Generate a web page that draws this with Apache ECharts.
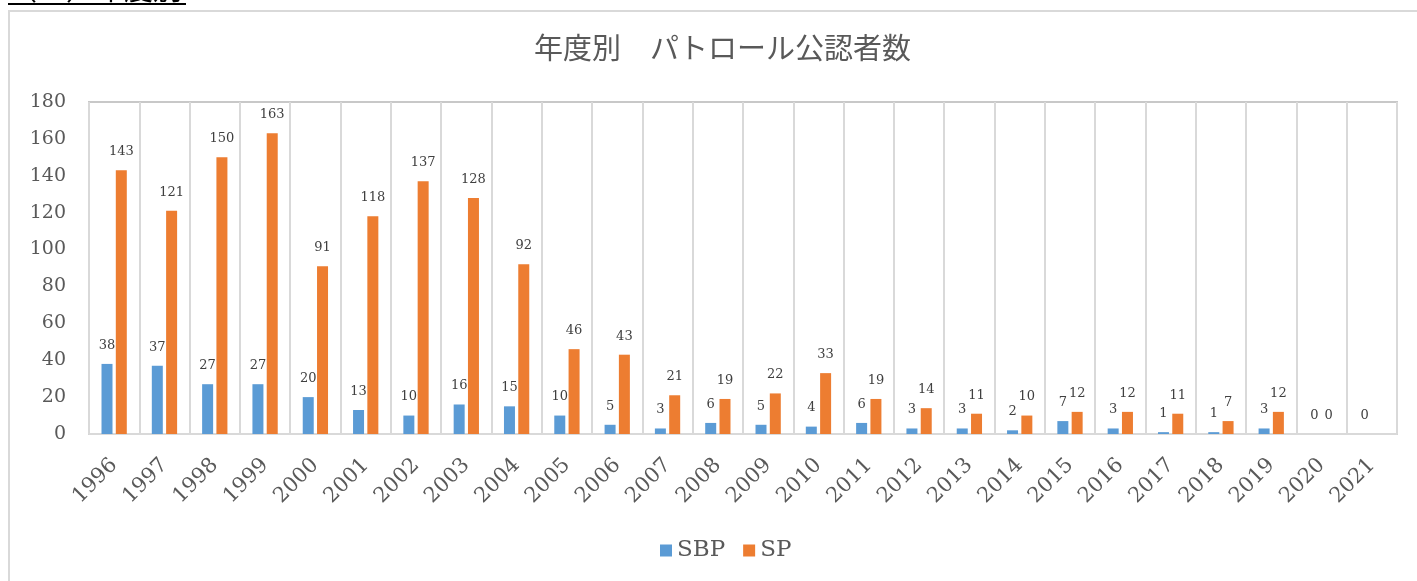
<!DOCTYPE html>
<html>
<head>
<meta charset="utf-8">
<script src="https://cdn.jsdelivr.net/npm/echarts@6/dist/echarts.min.js"></script>
<style>
  html, body { margin: 0; padding: 0; background: #fff; }
  #chart { width: 1417px; height: 581px; }
</style>
</head>
<body>
<div id="chart"></div>
<script>
// 年度
const years = ['1996', '1997', '1998', '1999', '2000', '2001', '2002', '2003', '2004', '2005',
  '2006', '2007', '2008', '2009', '2010', '2011', '2012', '2013', '2014', '2015',
  '2016', '2017', '2018', '2019', '2020', '2021'];
// SBP 公認者数
const sbpValues = [38, 37, 27, 27, 20, 13, 10, 16, 15, 10, 5, 3, 6, 5, 4, 6, 3, 3, 2, 7, 3, 1, 1, 3, 0, 0];
// SP 公認者数
const spValues = [143, 121, 150, 163, 91, 118, 137, 128, 92, 46, 43, 21, 19, 22, 33, 19, 14, 11, 10, 12, 12, 11, 7, 12, 0, null];
const seriesNames = ['SBP', 'SP'];

const serif = '"DejaVu Serif", "Liberation Serif", serif';
const textGray = '#595959';

const chart = echarts.init(document.getElementById('chart'));

const labelStyle = {
  show: true,
  position: 'top',
  distance: 12,
  fontFamily: serif,
  fontSize: 13,
  color: '#404040'
};

let option = {
  animation: false,
  backgroundColor: '#fff',
  title: {
    text: '年度別　パトロール公認者数',
    left: 529,
    top: 28,
    textStyle: {
      fontFamily: '"Noto Sans CJK JP", sans-serif',
      fontWeight: 'normal',
      fontSize: 29,
      color: textGray
    }
  },
  graphic: [
    {
      // 外枠
      type: 'rect',
      z: -10,
      shape: {x: 9, y: 11, width: 1500, height: 700},
      style: {fill: 'none', stroke: '#d9d9d9', lineWidth: 2}
    },
    {
      // 上部の切れた見出し
      type: 'text',
      left: 8,
      top: -26,
      style: {
        text: '（１）年度別',
        fontFamily: '"Noto Sans CJK JP", sans-serif',
        fontSize: 29,
        fill: '#000'
      }
    },
    {
      type: 'line',
      shape: {x1: 8, y1: 4, x2: 186, y2: 4},
      style: {stroke: '#000', lineWidth: 2}
    }
  ],
  legend: {
    data: seriesNames,
    bottom: 14,
    left: 655,
    itemWidth: 12,
    itemHeight: 12,
    itemGap: 18,
    icon: 'rect',
    textStyle: {
      fontFamily: serif,
      fontSize: 23,
      color: textGray
    }
  },
  grid: {
    left: 89,
    right: 20,
    top: 102,
    bottom: 147,
    show: true,
    borderColor: '#c8c8c8',
    borderWidth: 2
  },
  xAxis: [{
    type: 'category',
    data: years,
    axisTick: {show: false},
    axisLine: {
      show: true,
      lineStyle: {color: '#d9d9d9', width: 2}
    },
    splitLine: {
      show: true,
      interval: 0,
      lineStyle: {color: '#d9d9d9', width: 2}
    },
    axisLabel: {
      interval: 0,
      rotate: 45,
      margin: 28,
      fontFamily: serif,
      fontSize: 21,
      color: textGray
    }
  }],
  yAxis: [{
    type: 'value',
    min: 0,
    max: 180,
    interval: 20,
    axisLine: {show: false},
    axisTick: {show: false},
    splitLine: {show: false},
    axisLabel: {
      margin: 23,
      fontFamily: serif,
      fontSize: 19,
      color: textGray
    }
  }],
  series: [
    {
      type: 'bar',
      name: seriesNames[0],
      data: sbpValues,
      barWidth: 11,
      barGap: '30%',
      itemStyle: {color: '#5b9bd5'},
      label: labelStyle
    },
    {
      type: 'bar',
      name: seriesNames[1],
      data: spValues,
      barWidth: 11,
      barGap: '30%',
      itemStyle: {color: '#ed7d31'},
      label: labelStyle
    }
  ]
};

chart.setOption(option);
</script>
</body>
</html>
